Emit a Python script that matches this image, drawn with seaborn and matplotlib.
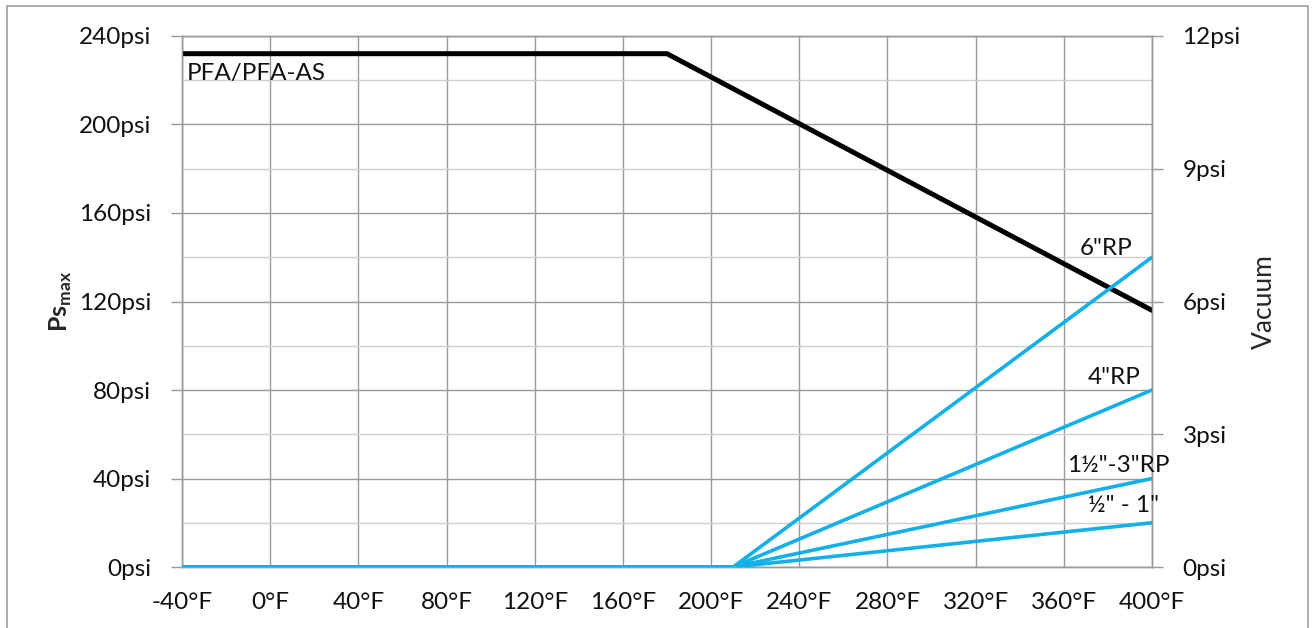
import numpy as np
import pandas as pd
import matplotlib.pyplot as plt
import seaborn as sns
from matplotlib.patches import Rectangle

# max pressure curve PFA/PFA-AS (left axis, psi)
pfa_temp = [-40, 180, 400]
pfa_ps = [232, 232, 116]

# vacuum curves (right axis, psi)
vac_temp = [-40, 210, 400]
vac_6rp = [0, 0, 7]
vac_4rp = [0, 0, 4]
vac_15_3rp = [0, 0, 2]
vac_05_1 = [0, 0, 1]

x_ticks = [-40, 0, 40, 80, 120, 160, 200, 240, 280, 320, 360, 400]
left_ticks = [0, 40, 80, 120, 160, 200, 240]
right_ticks = [0, 3, 6, 9, 12]

sns.set_style("white")
plt.rcParams['font.family'] = ['Lato', 'DejaVu Sans']
plt.rcParams['text.color'] = '#111111'

fig = plt.figure(figsize=(13.14, 6.28), dpi=100)
ax = fig.add_axes([0.1385, 0.0971, 0.7382, 0.8456])
ax2 = ax.twinx()

blue = '#12b0e8'
df_pfa = pd.DataFrame({'T': pfa_temp, 'P': pfa_ps})
sns.lineplot(data=df_pfa, x='T', y='P', ax=ax, color='black', linewidth=3.6, zorder=5)

for vals in [vac_6rp, vac_4rp, vac_15_3rp, vac_05_1]:
    d = pd.DataFrame({'T': vac_temp, 'V': vals})
    sns.lineplot(data=d, x='T', y='V', ax=ax2, color=blue, linewidth=2.6, zorder=5)

ax.set_xlim(-40, 400)
ax.set_ylim(0, 240)
ax2.set_ylim(0, 12)

ax.set_xticks(x_ticks)
ax.set_xticklabels([f"{t}°F" for t in x_ticks])
ax.set_yticks(left_ticks)
ax.set_yticklabels([f"{v}psi" for v in left_ticks])
ax.set_yticks(np.arange(20, 240, 40), minor=True)
ax2.set_yticks(right_ticks)
ax2.set_yticklabels([f"{v}psi" for v in right_ticks])

ax.grid(True, which='major', color='#9a9a9a', linewidth=1.0)
ax.grid(True, which='minor', axis='y', color='#cfcfcf', linewidth=1.0)
ax.set_axisbelow(True)
ax2.grid(False)

for a in (ax, ax2):
    for s in a.spines.values():
        s.set_color('#9a9a9a')
        s.set_linewidth(1.0)
    a.tick_params(axis='both', which='major', labelsize=17.5, color='#9a9a9a',
                  length=8, width=1, direction='out', labelcolor='#111111')
ax.tick_params(axis='y', which='minor', length=0)
ax.tick_params(axis='y', pad=14)
ax2.tick_params(axis='y', pad=14)
ax.tick_params(axis='x', pad=10)

ax.set_xlabel('')
ax.set_ylabel(r'Ps$_{\mathregular{max}}$', fontsize=18, fontweight='bold', labelpad=4)
ax2.set_ylabel('Vacuum', fontsize=19, labelpad=8)

ax.text(-38, 228, 'PFA/PFA-AS', fontsize=17.5, ha='left', va='top')
ax2.text(391, 6.95, '6"RP', fontsize=17.5, ha='right', va='bottom')
ax2.text(395, 4.05, '4"RP', fontsize=17.5, ha='right', va='bottom')
ax2.text(408, 2.05, '1½"-3"RP', fontsize=17.5, ha='right', va='bottom')
ax2.text(403, 1.15, '½" - 1"', fontsize=17.5, ha='right', va='bottom')

fig.patches.append(Rectangle((7 / 1314, -0.01), 1301 / 1314, 1 - 6 / 628 + 0.01,
                             transform=fig.transFigure, fill=False,
                             edgecolor='#a0a0a0', linewidth=1.2))

fig.savefig('out.png', dpi=100)
